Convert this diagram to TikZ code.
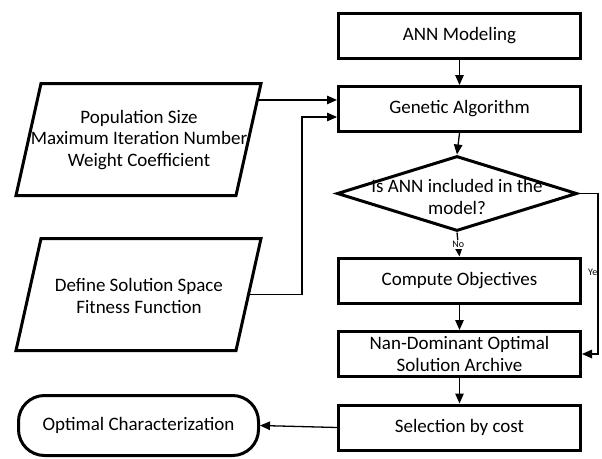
\documentclass[tikz,border=0pt]{standalone}
\usepackage{fontspec}
\setmainfont{Carlito}
\usetikzlibrary{arrows.meta,shapes.geometric,calc}
\begin{document}
\begin{tikzpicture}[x=1pt,y=-1pt,
  every node/.style={font=\fontsize{19}{21.5}\selectfont, inner sep=0pt},
  procbox/.style={draw, line width=3pt, minimum width=242pt, minimum height=45pt, align=center},
  shapeline/.style={draw, line width=3pt, line join=miter},
  conn/.style={line width=1.3pt, -{Triangle[length=10pt,width=8.5pt]}},
  small/.style={font=\fontsize{10}{11}\selectfont}
]
\useasboundingbox (0,0) rectangle (602,458);
\fill[white] (0,0) rectangle (602,458);

% process boxes
\node[procbox] (ann) at (459.5,36) {ANN Modeling};
\node[procbox] (gen) at (459.5,109) {Genetic Algorithm};
\node[draw, shape=diamond, line width=3pt, minimum width=240pt, minimum height=75pt] (dia) at (457,193.5) {};
\node[align=center] (diat) at (457,197) {Is ANN included in the\\model?};
\node[procbox] (comp) at (459.5,280.5) {Compute Objectives};
\node[procbox] (nan) at (459.5,354) {Nan-Dominant Optimal\\Solution Archive};
\node[procbox] (sel) at (459.5,427.5) {Selection by cost};
\node[draw, line width=3pt, rounded corners=26pt, minimum width=240pt, minimum height=60pt] (opt) at (138.5,425.5) {Optimal Characterization};

% parallelogram 1
\coordinate (p1tl) at (41,83.5);
\coordinate (p1tr) at (261,83.5);
\coordinate (p1br) at (236,195.5);
\coordinate (p1bl) at (16,195.5);
\draw[shapeline] (p1tl) -- (p1tr) -- (p1br) -- (p1bl) -- cycle;
\node[align=center] (p1) at (139,140) {Population Size\\Maximum Iteration Number\\Weight Coefficient};

% parallelogram 2
\coordinate (p2tl) at (41,238.5);
\coordinate (p2tr) at (261,238.5);
\coordinate (p2br) at (236,350.5);
\coordinate (p2bl) at (16,350.5);
\draw[shapeline] (p2tl) -- (p2tr) -- (p2br) -- (p2bl) -- cycle;
\node[align=center] (p2) at (139,296) {Define Solution Space\\Fitness Function};

% connectors
\draw[conn] (ann.south) -- (gen.north);
\draw[conn] (gen.south) -- (dia.north);
\draw[conn] (dia.south) -- node[small, fill=white, inner sep=1pt] (nolab) {No} (comp.north);
\draw[conn] (comp.south) -- (nan.north);
\draw[conn] (nan.south) -- (sel.north);
\draw[conn] (sel.west) -- (opt.east);

\coordinate (p1start) at ($(p1tr)!0.147!(p1br)$);
\draw[conn] (p1start) -- (p1start -| gen.west);

\coordinate (p2start) at ($(p2tr)!0.5!(p2br)$);
\coordinate (jn) at (302,117);
\draw[conn] (p2start) -| (jn) -- (jn -| gen.west);

\coordinate (yesc) at (598,193.5);
\draw[conn] (dia.east) -- (yesc) |- (nan.east);
\node[small, anchor=east] (yeslab) at (597.5,272) {Ye};
\end{tikzpicture}
\end{document}
